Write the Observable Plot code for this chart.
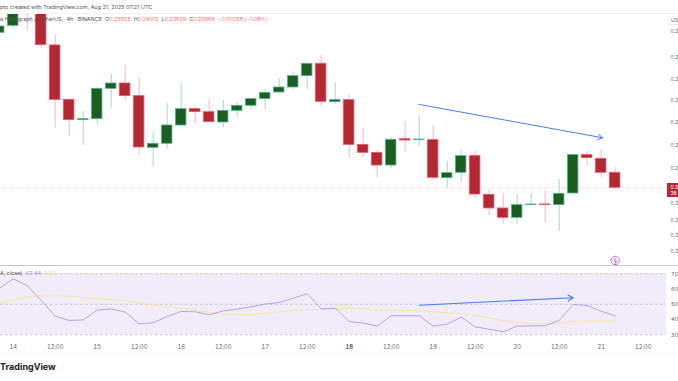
<!DOCTYPE html>
<html><head><meta charset="utf-8">
<script src="https://cdn.jsdelivr.net/npm/d3@7"></script>
<script src="https://cdn.jsdelivr.net/npm/@observablehq/plot@0.6"></script>
<style>
html,body{margin:0;padding:0;background:#fff;width:678px;height:381px;overflow:hidden;font-family:Inter,"Noto Sans",sans-serif}
#root{position:relative;width:678px;height:381px;overflow:hidden}
#root>div{position:absolute}
.t{white-space:nowrap;font-size:5.45px;line-height:7px;color:#555}
.r{color:#f7707b}
svg{display:block;font-family:Inter,"Noto Sans",sans-serif}
</style></head><body><div id="root"></div>
<script>
const opens=[.26343,.26463,.26786,.26843,.26124,.25185,.24834,.24852,.25375,.25467,.25249,.24356,.24426,.24742,.25024,.24972,.24794,.24995,.25082,.25197,.25312,.25398,.25594,.25807,.25145,.25180,.24408,.24270,.24051,.24506,.24489,.24489,.23833,.23925,.24213,.23545,.23309,.23147,.23366,.23378,.23366,.23568,.24230,.24166,.23925];
const closes=[.26452,.26728,.26728,.26130,.25185,.24834,.24852,.25375,.25467,.25249,.24362,.24426,.24742,.25024,.24972,.24800,.24995,.25082,.25197,.25306,.25398,.25594,.25807,.25151,.25180,.24408,.24270,.24051,.24495,.24483,.24500,.23838,.23919,.24213,.23550,.23309,.23147,.23366,.23378,.23366,.23562,.24230,.24178,.23925,.23666];
const highs=[.26527,.26786,.26843,.26872,.26308,.25185,.24984,.25393,.25623,.25778,.25565,.24610,.25116,.25462,.25070,.25191,.25174,.25139,.25203,.25358,.25554,.25663,.25819,.25951,.25473,.25260,.24690,.24322,.24535,.24805,.24915,.24736,.24126,.24316,.24293,.23631,.23574,.23539,.23562,.23608,.23810,.24236,.24287,.24328,.24012];
const lows=[.26297,.26406,.26383,.26078,.24696,.24552,.24397,.24759,.25047,.25174,.24224,.24034,.24333,.24702,.24765,.24794,.24702,.24886,.25013,.25018,.25301,.25358,.25370,.25070,.25105,.24178,.24195,.23844,.23994,.24276,.24385,.23815,.23660,.23758,.23481,.23188,.23038,.23038,.23366,.23055,.22911,.23568,.24046,.23850,.23629];
const rsi=[60.4,66.7,62.3,52.5,42.2,39.4,39.8,46.2,47.0,44.9,37.2,37.9,42.0,45.3,45.1,43.1,45.7,46.8,48.4,50.1,51.2,54.0,56.9,47.0,47.5,38.7,37.7,35.7,42.5,42.5,42.5,35.7,37.0,41.6,35.2,33.7,32.0,35.7,35.9,35.9,39.4,49.9,49.2,45.5,42.44];
const rsiMa=[50.8,53.0,54.9,55.6,55.6,55.4,54.5,53.6,53.2,52.3,51.0,49.7,48.6,47.3,46.2,44.6,43.6,43.1,43.3,44.2,45.1,46.0,46.4,46.6,47.0,47.5,47.0,46.2,46.2,46.0,45.7,45.1,44.4,43.8,42.7,41.1,39.4,38.3,37.4,37.2,37.7,38.5,39.0,39.2,39.11];
const priceTicks=[.26371,.25917,.25542,.25169,.24789,.24397,.24005,.23400,.23097,.22837,.22571];
const priceTickText="0.2";
const rsiTicks=[30,40,50,60,70];
const rsiDashed=[30,50,70];
const lastPrice=.23666;
const axisDays=[14,15,16,17,18,19,20,21];
const boldDay=18;
const priceArrow=[{h1:116,p1:.25105,h2:168.4,p2:.24530}];
const rsiArrow=[{h1:116,v1:49.4,h2:160,v2:54.3}];
const marker=[{h:172,p:.22411}];

const T=h=>new Date(Date.UTC(2025,7,14)+h*3600e3);
const xDomain=[T(-3.63),T(186.66)];
const candles=opens.map((o,i)=>({h:(i-1)*4,o,c:closes[i],hi:highs[i],lo:lows[i],up:closes[i]>=o}));
candles[0].up=true;
const body=d=>d.up?"#1b5e20":"#b22833";
const edge=d=>d.up?"#4fb394":"#f0566a";
const wick=d=>d.up?"#a3d9c9":"#f8b8c0";
const xTicks=axisDays.flatMap(d=>[T((d-14)*24),T((d-14)*24+12)]);
const fmt=d=>d.getUTCHours()===12?"12:00":String(d.getUTCDate());
const axisFont={fontSize:5.8,fill:"#666"};

const main=Plot.plot({
  width:678,height:252,marginTop:0,marginBottom:0,marginLeft:0,marginRight:12,
  style:{background:"transparent",overflow:"hidden"},
  x:{type:"utc",domain:xDomain,range:[0,666],axis:null},
  y:{domain:[.22324,.26676],range:[252,0],axis:null},
  marks:[
    Plot.ruleY([lastPrice],{stroke:"#f0707d",strokeOpacity:.4,strokeWidth:.8,strokeDasharray:"1,1"}),
    Plot.ruleX(candles,{x:d=>T(d.h),y1:"lo",y2:"hi",stroke:wick,strokeWidth:1,clip:true}),
    Plot.rect(candles,{x1:d=>T(d.h-1.5),x2:d=>T(d.h+1.5),y1:"o",y2:"c",fill:body,stroke:edge,strokeWidth:.8,clip:true}),
    Plot.arrow(priceArrow,{x1:d=>T(d.h1),y1:"p1",x2:d=>T(d.h2),y2:"p2",stroke:"#4a7bf7",strokeWidth:1,headLength:8,bend:0}),
    Plot.dot(marker,{x:d=>T(d.h),y:"p",r:4.2,fill:"#fff",stroke:"#c25fd8",strokeWidth:.9}),
    Plot.text(marker,{x:d=>T(d.h),y:"p",text:()=>"ϟ",fontSize:7,fontWeight:"bold",fill:"#c25fd8"}),
    Plot.axisY(priceTicks,{anchor:"right",tickSize:0,tickPadding:4,tickFormat:()=>priceTickText,label:null,fontSize:4.9,fill:"#666"})
  ]
});

const panel=Plot.plot({
  width:678,height:87,marginTop:7.3,marginBottom:18.7,marginLeft:0,marginRight:12,
  style:{background:"transparent",overflow:"hidden"},
  x:{type:"utc",domain:xDomain,range:[0,666],axis:null},
  y:{domain:[30,70],axis:null},
  marks:[
    Plot.rect([{}],{x1:()=>xDomain[0],x2:()=>xDomain[1],y1:()=>30,y2:()=>70,fill:"#f0ecfa"}),
    Plot.ruleY(rsiDashed,{stroke:"#bdb9c6",strokeWidth:.8,strokeDasharray:"2.5,2.5"}),
    Plot.line(candles,{x:d=>T(d.h),y:(d,i)=>rsiMa[i],stroke:"#fbe3a0",strokeWidth:1}),
    Plot.line(candles,{x:d=>T(d.h),y:(d,i)=>rsi[i],stroke:"#b9a3e3",strokeWidth:1}),
    Plot.arrow(rsiArrow,{x1:d=>T(d.h1),y1:"v1",x2:d=>T(d.h2),y2:"v2",stroke:"#4a7bf7",strokeWidth:1.1,headLength:8,bend:0}),
    Plot.axisY(rsiTicks,{anchor:"right",tickSize:0,tickPadding:4.5,label:null,fontSize:5.4,fill:"#666"}),
    Plot.axisX(xTicks.filter(d=>!(d.getUTCDate()===boldDay&&d.getUTCHours()===0)),{anchor:"bottom",tickSize:0,tickPadding:10,tickFormat:fmt,label:null,...axisFont}),
    Plot.axisX(xTicks.filter(d=>d.getUTCDate()===boldDay&&d.getUTCHours()===0),{anchor:"bottom",tickSize:0,tickPadding:10,tickFormat:fmt,label:null,fontWeight:"bold",...axisFont})
  ]
});

const root=document.getElementById("root");
function box(css,html){const e=document.createElement("div");e.style.cssText=css;if(html!=null)e.innerHTML=html;root.appendChild(e);return e;}
const m=box("left:0;top:13px;width:678px;height:252px");m.appendChild(main);
box("left:0;top:12.5px;width:678px;height:1px;background:#f1f1f1");
box("left:0;top:264.5px;width:678px;height:1.3px;background:#cbcbcb");
const p=box("left:0;top:266px;width:678px;height:87px");p.appendChild(panel);
box("left:0;top:353px;width:678px;height:1px;background:#f2f2f2");
box("left:0;top:3.5px","pto created with TradingView.com, Aug 21, 2025 07:21 UTC").className="t";
box("left:0;top:16px","a Hashgraph / TetherUS · 4h · BINANCE &nbsp;O<span class='r'>0.23925</span> &nbsp;H<span class='r'>0.24012</span> &nbsp;L<span class='r'>0.23629</span> &nbsp;C<span class='r'>0.23666</span> &nbsp;<span class='r'>−0.00258 (−1.08%)</span>").className="t";
box("left:0;top:269.8px","A, close) &nbsp;<span style='color:#a48fd8'>42.44</span> &nbsp;<span style='color:#f8dc85'>39.11</span>").className="t";
box("left:668px;top:16px;width:10px;height:9px;border:1px solid #eee;border-right:0;background:#fff;color:#666;font-size:5.2px;line-height:7px;padding-left:2px;box-sizing:border-box","US");
box("left:667px;top:183px;width:11px;height:14px;background:#b5293a;color:#fff;font-size:5px;line-height:6.5px;padding:0.5px 0 0 3.5px;box-sizing:border-box","0.2<br>38");
box("left:0;top:361px;font-size:9px;line-height:12px;font-weight:700;color:#222;white-space:nowrap","TradingView");
</script></body></html>
